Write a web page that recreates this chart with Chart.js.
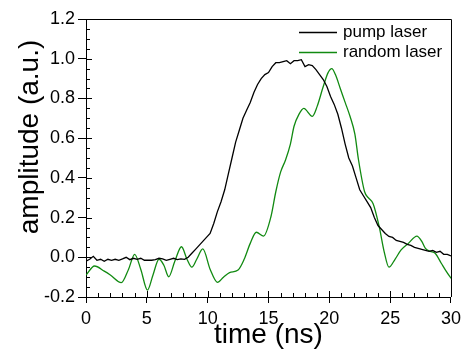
<!DOCTYPE html>
<html>
<head>
<meta charset="utf-8">
<script src="https://cdn.jsdelivr.net/npm/chart.js@4"></script>
<style>
  html, body { margin: 0; padding: 0; background: #fff; }
  #wrap { width: 466px; height: 356px; }
</style>
</head>
<body>
<div id="wrap"><canvas id="pulseChart" width="466" height="356"></canvas></div>
<script>
// time axis (ns) and amplitudes
const pumpTime = [0, 0.3, 0.6, 0.9, 1.2, 1.5, 1.8, 2.1, 2.4, 2.7, 3.0, 3.3, 3.6, 3.9, 4.2, 4.5, 4.8, 5.1, 5.4, 5.7,
    6.0, 6.3, 6.6, 6.9, 7.2, 7.5, 7.8, 8.1, 8.4, 8.7, 9.0, 9.3, 9.6, 9.9, 10.2, 10.5, 10.8, 11.1, 11.4, 11.7,
    12.0, 12.3, 12.6, 12.9, 13.2, 13.5, 13.8, 14.1, 14.4, 14.7, 15.0, 15.3, 15.6, 15.9, 16.2, 16.5, 16.8, 17.1, 17.4, 17.7,
    18.0, 18.3, 18.6, 18.9, 19.2, 19.5, 19.8, 20.1, 20.4, 20.7, 21.0, 21.3, 21.6, 21.9, 22.2, 22.5, 22.8, 23.1, 23.4, 23.7,
    24.0, 24.3, 24.6, 24.9, 25.2, 25.5, 25.8, 26.1, 26.4, 26.7, 27.0, 27.3, 27.6, 27.9, 28.2, 28.5, 28.8, 29.1, 29.4, 29.7, 30.0];
const pumpAmp = [-0.02, -0.01, 0.005, -0.015, -0.01, -0.02, -0.01, -0.015, -0.01, -0.015, -0.008, 0.0, -0.012, -0.005, -0.01, -0.005, -0.015, -0.015, -0.015, -0.012,
    -0.005, -0.008, -0.015, -0.01, -0.005, -0.012, -0.008, -0.01, 0.0, 0.02, 0.04, 0.06, 0.08, 0.10, 0.12, 0.17, 0.23, 0.28, 0.34, 0.42,
    0.50, 0.58, 0.64, 0.70, 0.74, 0.78, 0.83, 0.87, 0.90, 0.92, 0.93, 0.96, 0.98, 0.98, 0.985, 0.99, 0.975, 0.99, 0.99, 0.995,
    0.96, 0.97, 0.965, 0.945, 0.92, 0.895, 0.86, 0.81, 0.77, 0.72, 0.65, 0.57, 0.50, 0.46, 0.40, 0.34, 0.31, 0.28, 0.25, 0.20,
    0.16, 0.14, 0.12, 0.105, 0.10, 0.085, 0.08, 0.075, 0.065, 0.06, 0.05, 0.045, 0.04, 0.035, 0.03, 0.035, 0.025, 0.03, 0.015, 0.015, 0.007];

const randomTime = [0, 0.7, 1.5, 2.0, 2.9, 3.5, 4.0, 4.5, 5.05, 5.5, 6.0, 6.4, 6.8, 7.3, 7.85, 8.3, 8.7, 9.1, 9.6, 10.2,
    10.8, 11.3, 11.8, 12.5, 13.0, 13.5, 14.0, 14.6, 15.2, 15.6, 16.0, 16.4, 16.8, 17.1, 17.5, 17.9, 18.6, 19.0, 19.5, 19.9,
    20.2, 20.5, 20.9, 21.3, 21.7, 22.1, 22.4, 22.9, 23.2, 23.6, 24.1, 24.5, 24.9, 25.4, 25.9, 26.5, 27.2, 27.6, 27.9, 28.3,
    28.7, 29.2, 29.6, 30.0];
const randomAmp = [-0.09, -0.044, -0.07, -0.089, -0.128, -0.06, 0.015, -0.06, -0.165, -0.09, -0.01, -0.04, -0.098, -0.02, 0.053, -0.01, -0.05, -0.01, 0.042, -0.06,
    -0.126, -0.1, -0.077, -0.064, -0.01, 0.07, 0.126, 0.107, 0.204, 0.33, 0.43, 0.49, 0.57, 0.66, 0.72, 0.75, 0.71, 0.76, 0.86, 0.93,
    0.95, 0.92, 0.85, 0.78, 0.71, 0.62, 0.49, 0.33, 0.30, 0.27, 0.154, 0.03, -0.05, -0.01, 0.037, 0.07, 0.107, 0.08, 0.045, 0.03,
    0.02, -0.03, -0.07, -0.106];

const seriesLabels = ['pump laser', 'random laser'];
const seriesColors = ['#000000', '#118a11'];
const xTicks = [0, 5, 10, 15, 20, 25, 30];
const yTicks = [-0.2, 0.0, 0.2, 0.4, 0.6, 0.8, 1.0, 1.2];

const FONT = '"Liberation Sans", Arial, sans-serif';

function toPoints(xs, ys) {
    return xs.map((x, i) => ({ x: x, y: ys[i] }));
}

// frame, minor ticks, legend and axis titles
const decorations = {
    id: 'decorations',
    afterDraw(chart) {
        const ctx = chart.ctx;
        const a = chart.chartArea;
        const xs = chart.scales.x, ys = chart.scales.y;
        ctx.save();
        ctx.strokeStyle = '#000';
        ctx.lineWidth = 1;
        ctx.beginPath();
        ctx.moveTo(a.left, a.top + 0.5);
        ctx.lineTo(a.right + 0.5, a.top + 0.5);
        ctx.lineTo(a.right + 0.5, a.bottom);
        ctx.stroke();

        ctx.beginPath();
        for (let t = 0; t <= 30; t += 1) {
            const px = Math.round(xs.getPixelForValue(t)) + 0.5;
            const len = t % 5 === 0 ? 6 : 4;
            ctx.moveTo(px, a.bottom);
            ctx.lineTo(px, a.bottom - len);
        }
        for (let k = -4; k <= 24; k++) {
            const py = Math.round(ys.getPixelForValue(k * 0.05)) + 0.5;
            const len = k % 4 === 0 ? 6 : 4;
            ctx.moveTo(a.left, py);
            ctx.lineTo(a.left + len, py);
        }
        ctx.stroke();

        // legend inside the plot
        ctx.font = '17px ' + FONT;
        ctx.textBaseline = 'middle';
        ctx.fillStyle = '#000';
        chart.data.datasets.forEach((ds, i) => {
            const y = 32 + i * 20;
            ctx.strokeStyle = ds.borderColor;
            ctx.lineWidth = 1.3;
            ctx.beginPath();
            ctx.moveTo(299, y + 0.5);
            ctx.lineTo(337, y + 0.5);
            ctx.stroke();
            ctx.fillText(ds.label, 343, y);
        });

        // axis titles
        ctx.font = '28px ' + FONT;
        ctx.textAlign = 'center';
        ctx.textBaseline = 'alphabetic';
        ctx.fillText('time (ns)', (a.left + a.right) / 2, 343);
        ctx.translate(38, 137);
        ctx.rotate(-Math.PI / 2);
        ctx.fillText('amplitude (a.u.)', 0, 0);
        ctx.restore();
    }
};

const ctx = document.getElementById('pulseChart').getContext('2d');
const pulseChart = new Chart(ctx, {
    type: 'line',
    data: {
        datasets: [{
            label: seriesLabels[0],
            data: toPoints(pumpTime, pumpAmp),
            borderColor: seriesColors[0],
            borderWidth: 1.3,
            pointRadius: 0,
            tension: 0,
            fill: false
        }, {
            label: seriesLabels[1],
            data: toPoints(randomTime, randomAmp),
            borderColor: seriesColors[1],
            borderWidth: 1.3,
            pointRadius: 0,
            cubicInterpolationMode: 'monotone',
            fill: false
        }]
    },
    options: {
        responsive: false,
        animation: false,
        layout: { padding: { top: 19, right: 10, left: 0, bottom: 0 } },
        plugins: {
            legend: { display: false },
            tooltip: { enabled: false }
        },
        scales: {
            x: {
                type: 'linear',
                min: 0,
                max: 30,
                afterFit: (s) => { s.height = 59; },
                afterBuildTicks: (s) => { s.ticks = xTicks.map(v => ({ value: v })); },
                ticks: { color: '#000', font: { family: FONT, size: 18 }, padding: 5, maxRotation: 0 },
                grid: { drawOnChartArea: false, color: '#000', tickLength: 6 },
                border: { display: true, color: '#000', width: 1 }
            },
            y: {
                min: -0.2,
                max: 1.2,
                afterFit: (s) => { s.width = 86; },
                afterBuildTicks: (s) => { s.ticks = yTicks.map(v => ({ value: v })); },
                ticks: {
                    color: '#000', font: { family: FONT, size: 18 }, padding: 3,
                    callback: (v) => Number(v).toFixed(1)
                },
                grid: { drawOnChartArea: false, color: '#000', tickLength: 8 },
                border: { display: true, color: '#000', width: 1 }
            }
        }
    },
    plugins: [decorations]
});
</script>
</body>
</html>
